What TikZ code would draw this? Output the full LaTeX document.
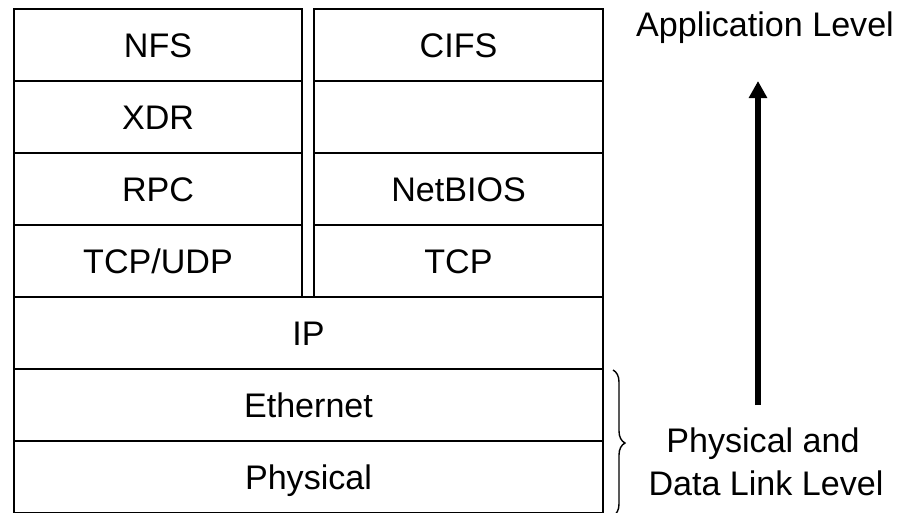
\documentclass[tikz,border=0pt]{standalone}
\usepackage{fontspec}
\setmainfont{Liberation Sans}
\usetikzlibrary{arrows.meta,decorations.pathreplacing}

\begin{document}
\begin{tikzpicture}
    [
        x = 0.02cm, y = -0.02cm,
        cell/.style = {draw, line width = 1.5pt, minimum height = 1.44cm,
                text height = 0.49cm, text depth = 0cm, inner sep = 0pt,
                font = \fontsize{19.4}{23}\selectfont},
        halfcell/.style = {cell, minimum width = 5.76cm},
        widecell/.style = {cell, minimum width = 5.78cm},
        fullcell/.style = {cell, minimum width = 11.78cm},
        level/.style = {font = \fontsize{19.4}{23}\selectfont, anchor = base},
    ]

    \useasboundingbox (0,0) rectangle (906,512);

    % NFS stack
    \foreach \name/\txt [count=\i from 0] in {nfs/NFS, xdr/XDR, rpc/RPC, tcpudp/{TCP/UDP}}{
            \node[halfcell] (\name) at (158, 45+72*\i) {\txt};
        }

    % CIFS stack
    \foreach \name/\txt [count=\i from 0] in {cifs/CIFS, empty/{}, netbios/NetBIOS, tcp/TCP}{
            \node[widecell] (\name) at (458.5, 45+72*\i) {\txt};
        }

    % shared layers
    \foreach \name/\txt [count=\i from 0] in {ip/IP, ethernet/Ethernet, physical/Physical}{
            \node[fullcell] (\name) at (308.5, 333+72*\i) {\txt};
        }

    \node[level] (applabel) at (765,36) {Application Level};
    \node[level] (physlabel) at (763,452) {Physical and};
    \node[level] (linklabel) at (766,495) {Data Link Level};

    \coordinate (arrowtail) at (758,405);
    \coordinate (arrowtip) at (758,81);
    \draw[line width = 0.13cm, -{Triangle[length=0.34cm, width=0.35cm]}] (arrowtail) -- (arrowtip);

    \coordinate (bracetop) at (613,370);
    \coordinate (bracebottom) at (613,516);
    \draw[line width = 0.8pt, decorate, decoration = {brace, amplitude = 0.24cm}] (bracetop) -- (bracebottom);

\end{tikzpicture}
\end{document}
